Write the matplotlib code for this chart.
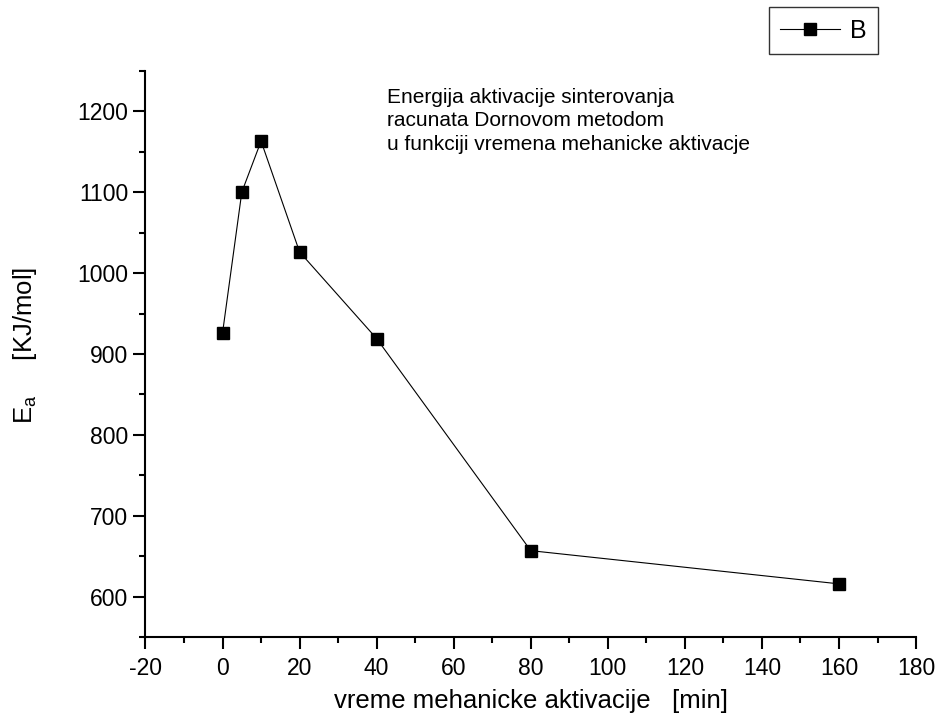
import matplotlib.pyplot as plt
from matplotlib.ticker import MultipleLocator

plt.rcParams['font.family'] = ['Liberation Sans', 'DejaVu Sans']
plt.rcParams['axes.unicode_minus'] = False

# vrijeme mehanicke aktivacije [min] i energija aktivacije [KJ/mol]
time_min = [0, 5, 10, 20, 40, 80, 160]
energy = [926, 1100, 1163, 1026, 919, 657, 616]
series_name = 'B'
note = ('Energija aktivacije sinterovanja\n'
        'racunata Dornovom metodom\n'
        'u funkciji vremena mehanicke aktivacje')


def main():
  fig = plt.figure(figsize=(9.38, 7.25), dpi=100)
  ax = fig.add_axes([0.1551, 0.121, 0.8215, 0.7815])

  ax.plot(time_min, energy, color='black', lw=0.8, marker='s', ms=8,
          mfc='black', mec='black', label=series_name)

  ax.set_xlim(-20, 180)
  ax.set_ylim(550, 1250)
  ax.xaxis.set_major_locator(MultipleLocator(20))
  ax.xaxis.set_minor_locator(MultipleLocator(10))
  ax.yaxis.set_major_locator(MultipleLocator(100))
  ax.yaxis.set_minor_locator(MultipleLocator(50))

  for side in ('top', 'right'):
    ax.spines[side].set_visible(False)
  for side in ('left', 'bottom'):
    ax.spines[side].set_linewidth(1.5)
  ax.tick_params(which='major', direction='out', length=8.5, width=1.5,
                 labelsize=16.5)
  ax.tick_params(axis='x', which='major', pad=6)
  ax.tick_params(axis='y', which='major', pad=4)
  ax.tick_params(which='minor', direction='out', length=4.5, width=1.5)

  ax.set_xlabel('vreme mehanicke aktivacije   [min]', fontsize=18.5, labelpad=6)
  ax.set_ylabel('E$_\\mathregular{a}$     [KJ/mol]', fontsize=18.5)
  ax.yaxis.set_label_coords(-0.138, 0.515)

  ax.text(0.313, 0.97, note, transform=ax.transAxes, fontsize=15,
          va='top', ha='left', linespacing=1.3)

  leg = fig.legend(loc='upper right', bbox_to_anchor=(0.936, 0.990),
                   fontsize=18, frameon=True, fancybox=False,
                   handlelength=2.4, handletextpad=0.4, borderpad=0.45,
                   borderaxespad=0)
  leg.get_frame().set_edgecolor('black')
  leg.get_frame().set_linewidth(1.0)

  fig.savefig('out.png', dpi=100)


if __name__ == '__main__':
  main()
